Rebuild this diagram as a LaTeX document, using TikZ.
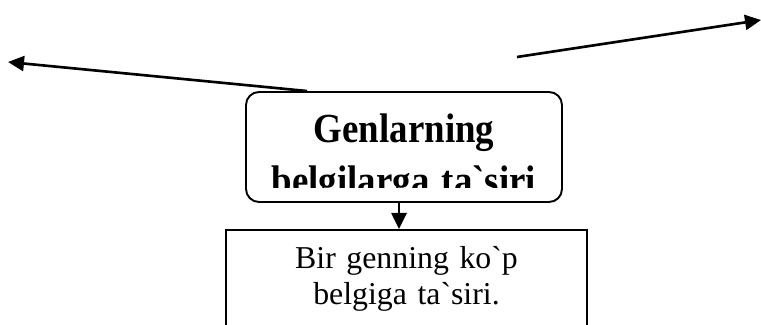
\documentclass[tikz,border=0pt]{standalone}
\usepackage{fontspec}
\setmainfont{Liberation Serif}
\usetikzlibrary{arrows.meta,positioning}

\tikzset{
  genbox/.style={draw, line width=1.1pt, rounded corners=0.26cm, minimum width=6.32cm, minimum height=2.2cm, inner sep=0pt},
  gentext/.style={text width=6.32cm, align=center, inner sep=0pt, yscale=1.12, transform shape, font=\fontsize{21}{26.5}\selectfont\bfseries},
  effbox/.style={draw, line width=1.1pt, text width=7.22cm, align=center, inner sep=0pt, text height=0.78cm, text depth=3cm, font=\fontsize{18.1}{20.5}\selectfont},
  arr/.style={line width=1.5pt, -{Triangle[length=0.32cm, width=0.3cm]}}
}

\begin{document}
\begin{tikzpicture}
    \useasboundingbox (0,0) rectangle (15.22,6.5);
    \clip (0,0) rectangle (15.22,6.5);
    % Main box
    \node[genbox] (gen) at (8.08,3.56) {};
    \begin{scope}
        \clip ([yshift=-1.92cm]gen.north west) rectangle (gen.north east);
        \node[gentext, anchor=base] (gentitle) at ([yshift=-1.02cm]gen.north) {Genlarning\\belgilarga ta\textasciigrave siri};
    \end{scope}
    % Effect box
    \node[effbox, anchor=north] (eff) at (8.13,1.92) {Bir genning ko\textasciigrave p\\belgiga ta\textasciigrave siri.};
    % Arrows
    \coordinate (lefttip) at (0.16,5.26);
    \coordinate (rightstart) at (10.34,5.36);
    \coordinate (righttip) at (15.22,6.1);
    \draw[arr] ([xshift=1.24cm]gen.north west) -- (lefttip);
    \draw[arr] (rightstart) -- (righttip);
    \draw[arr] ([xshift=-0.1cm]gen.south) -- ([xshift=-0.1cm]gen.south |- eff.north);
\end{tikzpicture}
\end{document}
